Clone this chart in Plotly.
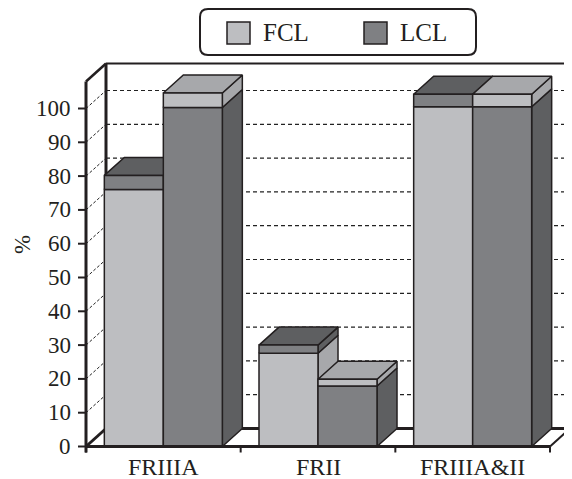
import plotly.graph_objects as go

# ---------------- data ----------------
categories = ["FRIIIA", "FRII", "FRIIIA&II"]
fcl = [76, 27.6, 100.5]        # FCL main value (%)
fcl_cap = [4.2, 2.4, 3.7]      # darker band on top of FCL bars
lcl = [100.3, 17.9, 100.5]     # LCL main value (%)
lcl_cap = [4.3, 2.0, 3.7]      # lighter band on top of LCL bars
series_names = ["FCL", "LCL"]
y_ticks = [0, 10, 20, 30, 40, 50, 60, 70, 80, 90, 100]
y_tick_labels = [str(v) for v in y_ticks]

# ---------------- styles ----------------
OFF = 8                               # page body margin offset
W_PX, H_PX = 572 - OFF, 479 - OFF
PX_X0, PX_PER_X = 86.0 - OFF, 154.67  # pixel of x=-0.5, pixels per category
PX_Y0, PX_PER_Y = 446.5 - OFF, 3.38   # pixel of y=0, pixels per %
X_RANGE = [-0.5 - PX_X0 / PX_PER_X, -0.5 + (W_PX - PX_X0) / PX_PER_X]
Y_RANGE = [-(H_PX - PX_Y0) / PX_PER_Y, PX_Y0 / PX_PER_Y]
DX = 20 / PX_PER_X                   # oblique depth offset (x units)
DY = 18 / PX_PER_Y                   # oblique depth offset (y units)
YMAX = 108
BAR_W = 59 / PX_PER_X
XL, XR = -0.5, len(categories) - 0.5

LIGHT, LIGHT_SH = "#BDBEC1", "#A7A8AB"
DARK, DARK_SH = "#7F8083", "#5E5F61"
INK = "#231F20"
FONT = "Liberation Serif, Times New Roman, serif"

fig = go.Figure()


def line(xs, ys, width=2, dash=None, color=INK):
    fig.add_trace(go.Scatter(x=xs, y=ys, mode="lines", hoverinfo="skip", showlegend=False,
                             line=dict(color=color, width=width, dash=dash)))


def poly(xs, ys, fill, width=1.5):
    fig.add_trace(go.Scatter(x=xs + [xs[0]], y=ys + [ys[0]], mode="lines", fill="toself",
                             fillcolor=fill, hoverinfo="skip", showlegend=False,
                             line=dict(color=INK, width=width)))


# walls (white) and gridlines
poly([XL, XL + DX, XL + DX, XL], [0, DY, YMAX + DY, YMAX], "white", width=0.1)
poly([XL + DX, XR + DX, XR + DX, XL + DX], [DY, DY, YMAX + DY, YMAX + DY], "white", width=0.1)
for v in y_ticks[1:]:
    line([XL + DX, XR + DX], [v + DY, v + DY], width=1.2, dash="4px,3px", color="#222")
    line([XL, XL + DX], [v, v + DY], width=1, dash="3px,2px", color="#222")

# wall / floor edges
line([XL + DX, XL + DX], [DY, YMAX + DY], width=3)
line([XL + DX, XR + DX], [YMAX + DY, YMAX + DY], width=2)
line([XR + DX, XR + DX], [DY, YMAX + DY], width=2)
line([XL, XL + DX], [YMAX, YMAX + DY], width=2.5)
line([XL + DX, XR + DX], [DY, DY], width=3)
line([XL, XL + DX], [0, DY], width=3)
line([XR, XR + DX], [0, DY], width=2)

# bars
for i in range(len(categories)):
    specs = [
        (i - BAR_W, [(0, fcl[i], LIGHT, LIGHT_SH), (fcl[i], fcl[i] + fcl_cap[i], DARK, DARK_SH)]),
        (i, [(0, lcl[i], DARK, DARK_SH), (lcl[i], lcl[i] + lcl_cap[i], LIGHT, LIGHT_SH)]),
    ]
    for x0, segs in specs:
        x1 = x0 + BAR_W
        for y0, y1, col, sh in segs:
            poly([x1, x1 + DX, x1 + DX, x1], [y0, y0 + DY, y1 + DY, y1], sh)
        yt, top_sh = segs[-1][1], segs[-1][3]
        poly([x0, x0 + DX, x1 + DX, x1], [yt, yt + DY, yt + DY, yt], top_sh)
        for y0, y1, col, sh in segs:
            poly([x0, x1, x1, x0], [y0, y0, y1, y1], col)

# front axes
line([XL, XR], [0, 0], width=3)
line([XL, XL], [-6 / PX_PER_Y, YMAX], width=3)
for k in range(len(categories) + 1):
    xk = XL + k
    line([xk, xk], [0, -6 / PX_PER_Y], width=2)
for v in y_ticks:
    line([XL, XL - 8 / PX_PER_X], [v, v], width=2)

annotations = []
for v, lab in zip(y_ticks, y_tick_labels):
    annotations.append(dict(x=XL - 13 / PX_PER_X, y=v, xref="x", yref="y", text=lab,
                            showarrow=False, xanchor="right", yanchor="middle",
                            font=dict(family=FONT, size=23, color=INK)))
for i, c in enumerate(categories):
    annotations.append(dict(x=i, y=0, xref="x", yref="y", text=c, showarrow=False,
                            xanchor="center", yanchor="top", yshift=-5,
                            font=dict(family=FONT, size=24, color=INK)))


def px(xp):
    """reference pixel x -> paper"""
    return (xp - OFF) / W_PX


def py(yp):
    """reference pixel y -> paper"""
    return 1 - (yp - OFF) / H_PX


annotations.append(dict(x=px(22), y=py(245), xref="paper", yref="paper", text="%",
                        showarrow=False, textangle=-90, xanchor="center", yanchor="middle",
                        font=dict(family=FONT, size=23, color=INK)))

# legend (drawn)
shapes = []
lx0, lx1, ly0, ly1, r = 200, 476, 9, 55, 8
path = (f"M {px(lx0 + r)},{py(ly0)} L {px(lx1 - r)},{py(ly0)} Q {px(lx1)},{py(ly0)} {px(lx1)},{py(ly0 + r)} "
        f"L {px(lx1)},{py(ly1 - r)} Q {px(lx1)},{py(ly1)} {px(lx1 - r)},{py(ly1)} "
        f"L {px(lx0 + r)},{py(ly1)} Q {px(lx0)},{py(ly1)} {px(lx0)},{py(ly1 - r)} "
        f"L {px(lx0)},{py(ly0 + r)} Q {px(lx0)},{py(ly0)} {px(lx0 + r)},{py(ly0)} Z")
shapes.append(dict(type="path", xref="paper", yref="paper", path=path,
                   line=dict(color=INK, width=2), fillcolor="white"))
for name, col, sx, tx in [(series_names[0], LIGHT, 227, 261), (series_names[1], DARK, 364, 398)]:
    shapes.append(dict(type="rect", xref="paper", yref="paper", x0=px(sx), x1=px(sx + 23),
                       y0=py(22), y1=py(44), fillcolor=col, line=dict(color=INK, width=1.5)))
    annotations.append(dict(x=px(tx), y=py(33), xref="paper", yref="paper", text=name,
                            showarrow=False, xanchor="left", yanchor="middle",
                            font=dict(family=FONT, size=25, color=INK)))

fig.update_layout(
    width=W_PX, height=H_PX, margin=dict(l=0, r=0, t=0, b=0),
    paper_bgcolor="white", plot_bgcolor="white", showlegend=False,
    xaxis=dict(range=X_RANGE, visible=False, fixedrange=True),
    yaxis=dict(range=Y_RANGE, visible=False, fixedrange=True),
    annotations=annotations, shapes=shapes,
)

fig.write_html("out.html", config={"displayModeBar": False})
